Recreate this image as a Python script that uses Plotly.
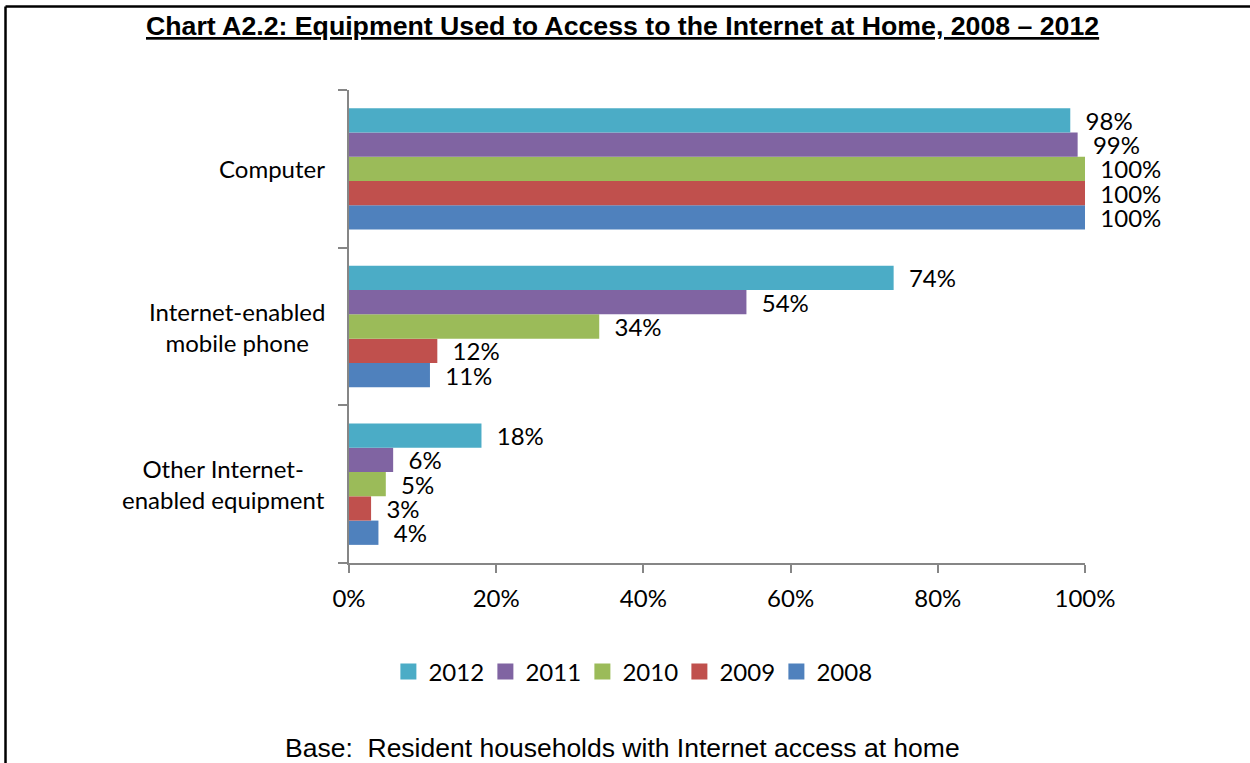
import plotly.graph_objects as go

# Equipment categories (top to bottom) and survey years
categories = ["Computer", "Internet-enabled<br>mobile phone", "Other Internet-<br>enabled equipment"]
years = ["2008", "2009", "2010", "2011", "2012"]

# Share of households (%) by year, in category order
share_2008 = [100, 11, 4]
share_2009 = [100, 12, 3]
share_2010 = [100, 34, 5]
share_2011 = [99, 54, 6]
share_2012 = [98, 74, 18]

x_ticks = [0, 20, 40, 60, 80, 100]
x_tick_labels = ["0%", "20%", "40%", "60%", "80%", "100%"]

colors = {
    "2008": "#4F81BD",
    "2009": "#C0504D",
    "2010": "#9BBB59",
    "2011": "#8064A2",
    "2012": "#4BACC6",
}
series = {
    "2008": share_2008,
    "2009": share_2009,
    "2010": share_2010,
    "2011": share_2011,
    "2012": share_2012,
}

body_font = "Lato, 'Open Sans', sans-serif"
head_font = "'Liberation Sans', Arial, sans-serif"
pad = "\u00a0\u00a0"

fig = go.Figure()
for yr in years:
    vals = series[yr]
    fig.add_trace(go.Bar(
        name=yr,
        x=vals,
        y=categories,
        orientation="h",
        marker=dict(color=colors[yr], line=dict(width=0)),
        text=[f"{pad}{v}%" for v in vals],
        textposition="outside",
        textfont=dict(family=body_font, size=24, color="#000000"),
        constraintext="none",
        cliponaxis=False,
        showlegend=False,
    ))

# Legend entries with square swatches
for yr in reversed(years):
    fig.add_trace(go.Scatter(
        name=yr,
        x=[None], y=[None],
        mode="markers",
        marker=dict(symbol="square", size=16, color=colors[yr]),
        showlegend=True,
    ))

# Category labels, centred line by line, to the left of the axis
for cat in categories:
    fig.add_annotation(
        x=0, y=cat, xref="x", yref="y",
        text=cat, showarrow=False,
        xanchor="right", yanchor="middle", align="center",
        xshift=-22,
        font=dict(family=body_font, size=24, color="#000000"),
    )

# Title (underlined) and base note
fig.add_annotation(
    x=0.372, y=1.135, xref="paper", yref="paper",
    text="<b><u>Chart A2.2: Equipment Used to Access to the Internet at Home, 2008 – 2012</u></b>",
    showarrow=False, xanchor="center", yanchor="middle",
    font=dict(family=head_font, size=26.7, color="#000000"),
)
fig.add_annotation(
    x=0.371, y=-0.391, xref="paper", yref="paper",
    text="Base:  Resident households with Internet access at home",
    showarrow=False, xanchor="center", yanchor="middle",
    font=dict(family=head_font, size=26.5, color="#000000"),
)

# Page frame (left and top edges)
frame_left = -0.4667
frame_top = 1.1765
fig.add_shape(type="line", xref="paper", yref="paper",
              x0=frame_left, x1=frame_left, y0=frame_top, y1=-0.5,
              line=dict(color="#000000", width=2.5))
fig.add_shape(type="line", xref="paper", yref="paper",
              x0=frame_left, x1=1.3, y0=frame_top, y1=frame_top,
              line=dict(color="#000000", width=2.5))

fig.update_layout(
    width=1250, height=763,
    margin=dict(l=349, r=165, t=90, b=200),
    paper_bgcolor="#FFFFFF",
    plot_bgcolor="#FFFFFF",
    barmode="group",
    bargap=0.23,
    bargroupgap=0,
    showlegend=True,
    legend=dict(
        orientation="h",
        x=0.383, y=-0.23, xanchor="center", yanchor="middle",
        font=dict(family=body_font, size=24, color="#000000"),
        bgcolor="rgba(0,0,0,0)",
        entrywidth=52,
        entrywidthmode="pixels",
        itemclick=False,
    ),
    xaxis=dict(
        range=[0, 100],
        tickvals=x_ticks,
        ticktext=x_tick_labels,
        ticks="outside", ticklen=8, tickcolor="#868686", tickwidth=1.5,
        ticklabelstandoff=5,
        showline=True, linecolor="#868686", linewidth=1.5,
        showgrid=False, zeroline=False,
        tickfont=dict(family=body_font, size=24, color="#000000"),
        fixedrange=True,
    ),
    yaxis=dict(
        categoryorder="array",
        categoryarray=list(reversed(categories)),
        tickson="boundaries",
        ticks="outside", ticklen=9, tickcolor="#868686", tickwidth=1.5,
        showticklabels=False,
        showline=True, linecolor="#868686", linewidth=1.5,
        showgrid=False, zeroline=False,
        fixedrange=True,
    ),
)

fig.write_html("out.html")
